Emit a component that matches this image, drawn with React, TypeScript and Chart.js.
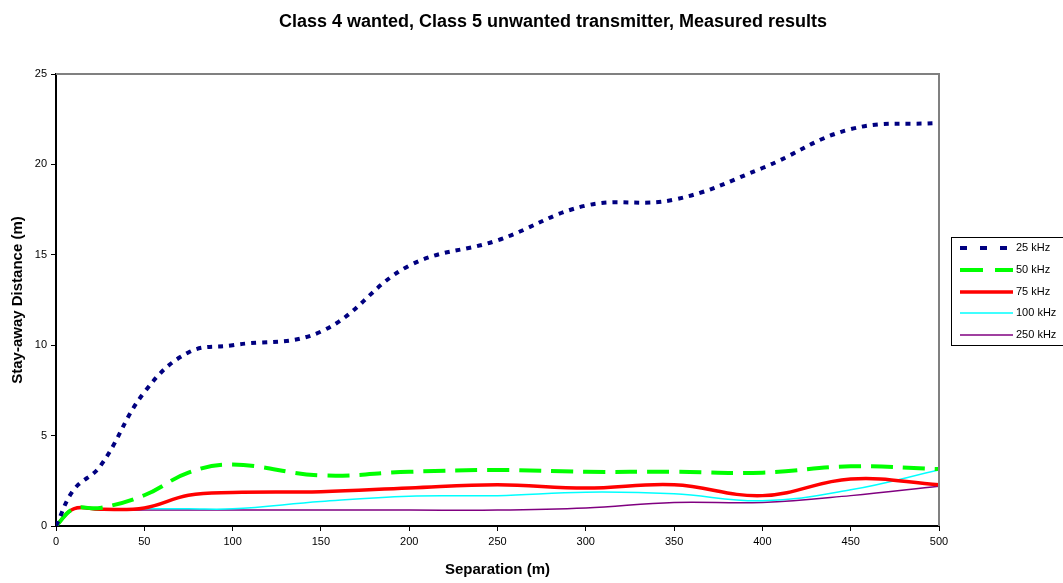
import React, { useEffect, useRef } from "react";
import { Chart, registerables } from "chart.js";

Chart.register(...registerables);

const separation = [0, 10, 25, 50, 75, 100, 150, 200, 250, 300, 350, 400, 450, 500];
const khz25 = [0, 2.0, 3.3, 7.4, 9.6, 10.0, 10.75, 14.4, 15.8, 17.72, 18.05, 19.8, 21.95, 22.3];
const khz50 = [0, 0.95, 1.0, 1.7, 2.95, 3.4, 2.8, 3.0, 3.1, 3.0, 3.0, 2.95, 3.3, 3.15];
const khz75 = [0, 0.95, 0.92, 1.0, 1.7, 1.85, 1.9, 2.1, 2.28, 2.1, 2.28, 1.68, 2.6, 2.28];
const khz100 = [0, 0.95, 0.92, 0.95, 0.95, 0.95, 1.35, 1.65, 1.68, 1.87, 1.78, 1.4, 2.0, 3.1];
const khz250 = [0, 0.92, 0.88, 0.88, 0.88, 0.88, 0.88, 0.88, 0.88, 1.0, 1.3, 1.3, 1.68, 2.2];

const seriesLabels = ["25 kHz", "50 kHz", "75 kHz", "100 kHz", "250 kHz"];
const seriesColors = ["#000080", "#00FF00", "#FF0000", "#00FFFF", "#800080"];
const seriesWidths = [4, 4, 3.5, 1.5, 1.5];
const seriesDashes: number[][] = [[5, 6], [22, 10], [], [], []];
const legendDashes: number[][] = [[7, 13], [23, 12], [], [], []];

const titleText = "Class 4 wanted, Class 5 unwanted transmitter, Measured results";
const xTitle = "Separation (m)";
const yTitle = "Stay-away Distance (m)";
const FONT = "'Liberation Sans', Arial, sans-serif";

const decor = {
  id: "decor",
  afterDraw(chart: any) {
    const ctx = chart.ctx as CanvasRenderingContext2D;
    const a = chart.chartArea;
    ctx.save();
    ctx.strokeStyle = "#808080";
    ctx.lineWidth = 2;
    ctx.beginPath();
    ctx.moveTo(a.left, a.top);
    ctx.lineTo(a.right, a.top);
    ctx.lineTo(a.right, a.bottom);
    ctx.stroke();

    ctx.fillStyle = "#000";
    ctx.textAlign = "center";
    ctx.textBaseline = "middle";
    ctx.font = `bold 18px ${FONT}`;
    ctx.fillText(titleText, 553, 22);

    ctx.font = `bold 15px ${FONT}`;
    ctx.fillText(xTitle, (a.left + a.right) / 2, 570);
    ctx.save();
    ctx.translate(18, (a.top + a.bottom) / 2);
    ctx.rotate(-Math.PI / 2);
    ctx.fillText(yTitle, 0, 0);
    ctx.restore();

    const lx = 951, ly = 237, lw = 140, lh = 108;
    ctx.fillStyle = "#fff";
    ctx.fillRect(lx, ly, lw, lh);
    ctx.strokeStyle = "#000";
    ctx.lineWidth = 1;
    ctx.strokeRect(lx + 0.5, ly + 0.5, lw, lh);
    const rows = [248, 270, 292, 313, 335];
    ctx.font = `11px ${FONT}`;
    ctx.textAlign = "left";
    for (let i = 0; i < seriesLabels.length; i++) {
      ctx.strokeStyle = seriesColors[i];
      ctx.lineWidth = seriesWidths[i];
      ctx.setLineDash(legendDashes[i]);
      ctx.beginPath();
      ctx.moveTo(960, rows[i]);
      ctx.lineTo(1013, rows[i]);
      ctx.stroke();
      ctx.setLineDash([]);
      ctx.fillStyle = "#000";
      ctx.fillText(seriesLabels[i], 1016, rows[i]);
    }
    ctx.restore();
  },
};

export default function App() {
  const ref = useRef<HTMLCanvasElement>(null);
  useEffect(() => {
    document.body.style.margin = "0";
    const canvas = ref.current!;
    const all = [khz25, khz50, khz75, khz100, khz250];
    const datasets = all.map((ys, i) => ({
      label: seriesLabels[i],
      data: separation.map((x, j) => ({ x, y: ys[j] })),
      borderColor: seriesColors[i],
      backgroundColor: seriesColors[i],
      borderWidth: seriesWidths[i],
      borderDash: seriesDashes[i],
      fill: false,
      pointRadius: 0,
      tension: 0.4,
    }));
    const tickFont = { family: FONT, size: 11 };
    const chart = new Chart(canvas, {
      type: "line",
      data: { datasets },
      options: {
        responsive: false,
        animation: false,
        layout: { padding: { left: 0, right: 124, top: 74, bottom: 0 } },
        plugins: {
          legend: { display: false },
          title: { display: false },
          tooltip: { enabled: false },
        },
        scales: {
          x: {
            type: "linear",
            min: 0,
            max: 500,
            ticks: { stepSize: 50, color: "#000", font: tickFont, maxRotation: 0, padding: 4 },
            grid: { drawOnChartArea: false, drawTicks: true, tickLength: 5, color: "#000" },
            border: { color: "#000", width: 2 },
            afterFit: (s: any) => { s.height = 57; },
          },
          y: {
            type: "linear",
            min: 0,
            max: 25,
            ticks: { stepSize: 5, color: "#000", font: tickFont, padding: 4 },
            grid: { drawOnChartArea: false, drawTicks: true, tickLength: 5, color: "#000" },
            border: { color: "#000", width: 2 },
            afterFit: (s: any) => { s.width = 56; },
          },
        },
      } as any,
      plugins: [decor],
    });
    return () => chart.destroy();
  }, []);
  return (
    <div style={{ position: "absolute", left: 0, top: 0, width: 1063, height: 583 }}>
      <canvas ref={ref} width={1063} height={583} />
    </div>
  );
}
